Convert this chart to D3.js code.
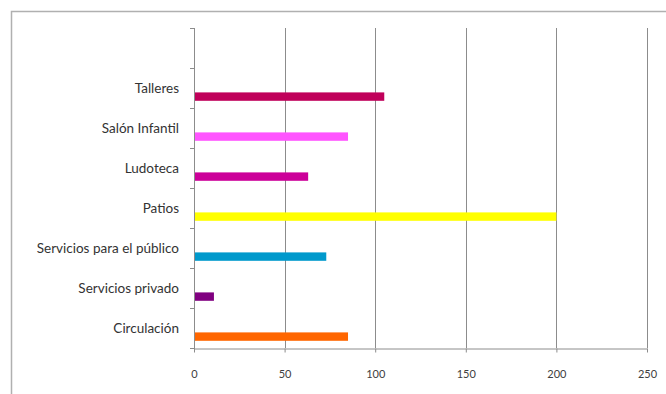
<!DOCTYPE html>
<html>
<head>
<meta charset="utf-8">
<script src="https://cdn.jsdelivr.net/npm/d3@7"></script>
<style>
  body { margin: 0; background: #fff; }
  svg { display: block; }
</style>
</head>
<body>
<div id="chart"></div>
<script>
// data
const categories = ["Talleres", "Salón Infantil", "Ludoteca", "Patios",
  "Servicios para el público", "Servicios privado", "Circulación"];
const values = [105, 85, 63, 200, 73, 11, 85];
const barColors = ["#c0005a", "#ff55ff", "#cc0099", "#ffff00", "#0099cc", "#800080", "#ff6600"];
const xTicks = [0, 50, 100, 150, 200, 250];

const width = 666, height = 394;
const plot = {left: 194, right: 647, top: 28, bottom: 348};

const svg = d3.select("#chart").append("svg")
  .attr("width", width)
  .attr("height", height);

// outer frame
svg.append("rect")
  .attr("x", 11.5).attr("y", 11.5)
  .attr("width", 700).attr("height", 420)
  .attr("fill", "none")
  .attr("stroke", "#b0b0b0")
  .attr("stroke-width", 1.5);

const x = d3.scaleLinear().domain([0, 250]).range([plot.left, plot.right]);
// one empty slot at top, like the original
const y = d3.scaleBand().domain(["", ...categories]).range([plot.top, plot.bottom]);

// gridlines
svg.append("g")
  .selectAll("line")
  .data(xTicks.slice(1))
  .join("line")
    .attr("x1", d => Math.round(x(d)) + 0.5)
    .attr("x2", d => Math.round(x(d)) + 0.5)
    .attr("y1", plot.top)
    .attr("y2", plot.bottom)
    .attr("stroke", "#8c8c8c");

// bars
svg.append("g")
  .selectAll("rect")
  .data(categories)
  .join("rect")
    .attr("x", x(0))
    .attr("y", d => y(d) + y.bandwidth() * 0.61)
    .attr("width", (d, i) => x(values[i]) - x(0))
    .attr("height", y.bandwidth() * 0.21)
    .attr("fill", (d, i) => barColors[i]);

// x axis
svg.append("g")
  .attr("transform", `translate(0,${plot.bottom + 0.5})`)
  .call(d3.axisBottom(x).tickValues(xTicks).tickSize(4).tickSizeOuter(0).tickPadding(18))
  .call(g => g.select(".domain").attr("stroke", "#8c8c8c"))
  .call(g => g.selectAll(".tick line").attr("stroke", "#8c8c8c"))
  .call(g => g.selectAll(".tick text")
    .attr("font-family", "Lato, 'Open Sans', sans-serif")
    .attr("font-size", 11)
    .attr("fill", "#404040"));

// y axis: tick marks at band edges
const yEdges = [plot.top, ...categories.map(c => y(c)), plot.bottom];
svg.append("line")
  .attr("x1", plot.left + 0.5).attr("x2", plot.left + 0.5)
  .attr("y1", plot.top).attr("y2", plot.bottom + 4)
  .attr("stroke", "#8c8c8c");
svg.append("g")
  .selectAll("line")
  .data(yEdges)
  .join("line")
    .attr("x1", plot.left - 4)
    .attr("x2", plot.left)
    .attr("y1", d => Math.round(d) + 0.5)
    .attr("y2", d => Math.round(d) + 0.5)
    .attr("stroke", "#8c8c8c");

// category labels
svg.append("g")
  .selectAll("text")
  .data(categories)
  .join("text")
    .attr("x", plot.left - 15)
    .attr("y", d => y(d) + y.bandwidth() / 2)
    .attr("text-anchor", "end")
    .attr("dominant-baseline", "central")
    .attr("font-family", "Lato, 'Open Sans', sans-serif")
    .attr("font-size", 13.5)
    .attr("fill", "#333")
    .text(d => d);
</script>
</body>
</html>
